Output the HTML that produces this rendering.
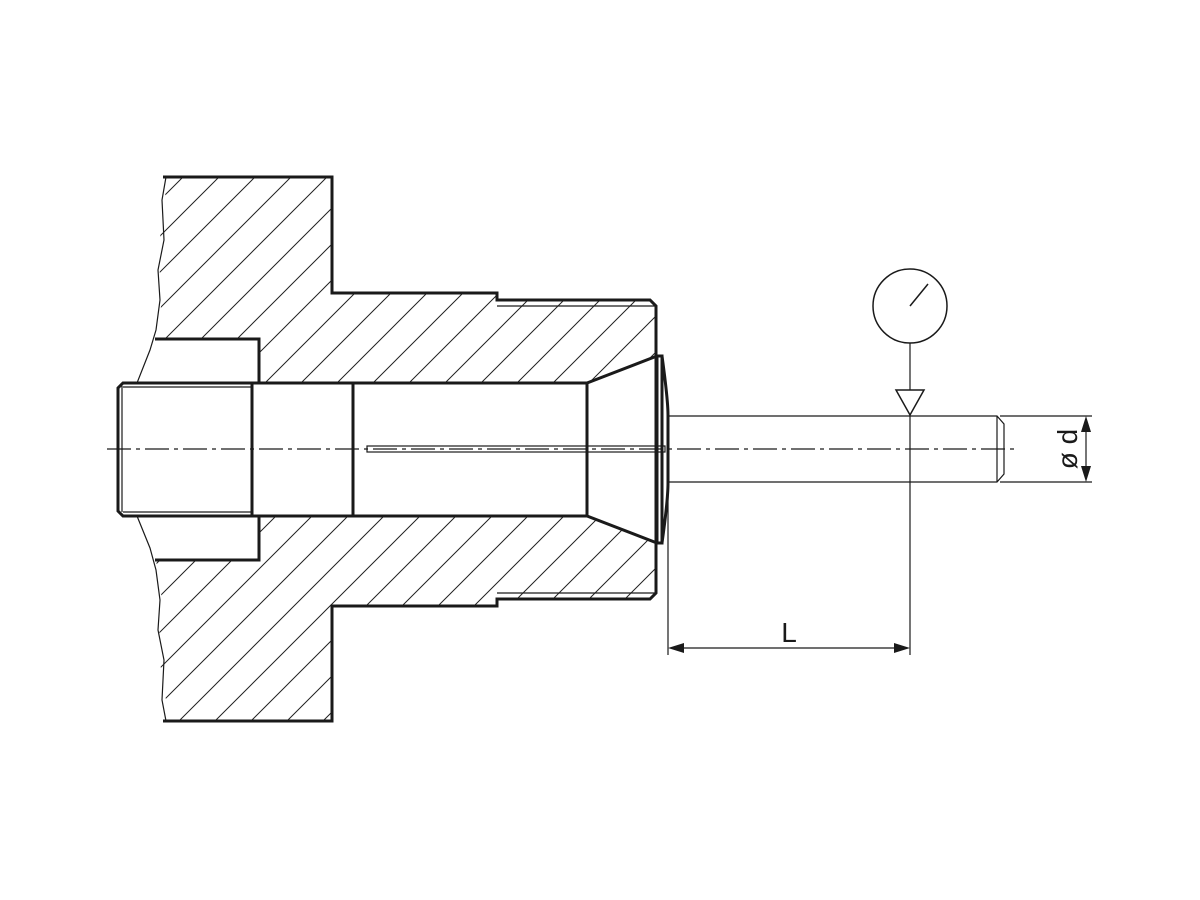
<!DOCTYPE html>
<html><head><style>html,body{margin:0;padding:0;background:#fff}svg{display:block}</style></head>
<body>
<svg width="1200" height="900" viewBox="0 0 1200 900" xmlns="http://www.w3.org/2000/svg">
<defs>
<pattern id="h" patternUnits="userSpaceOnUse" width="36" height="36">
<path d="M-9,9 L9,-9 M0,36 L36,0 M27,45 L45,27" stroke="#222" stroke-width="1"/>
</pattern>
</defs>
<g fill="url(#h)" stroke="none">
<path d="M163,177 L332,177 L332,293 L497,293 L497,300 L650,300 L656,306 L656,356 L587,383 L259,383 L259,339 L156,339 L162,300 L158,250 L166,200 Z"/>
<path d="M163,721 L332,721 L332,606 L497,606 L497,599 L650,599 L656,593 L656,543 L587,516 L259,516 L259,560 L156,560 L162,600 L158,650 L166,700 Z"/>
</g>
<g fill="none" stroke="#1a1a1a" stroke-width="3" stroke-linejoin="miter">
<path d="M163,177 L332,177 L332,293 L497,293 L497,300 L650,300 L656,306 L656,593 L650,599 L497,599 L497,606 L332,606 L332,721 L163,721"/>
<path d="M259,383 L259,339 L155,339"/>
<path d="M259,516 L259,560 L155,560"/>
<path d="M123,383 L587,383 L657,356 L662,356 L662,543 L657,543 L587,516 L123,516 L118,511 L118,388 Z"/>
<path d="M252,383 L252,516 M353,383 L353,516 M587,383 L587,516 M657,356 L657,543"/>
<path d="M662,356 Q668,400 668,415 L668,483 Q668,500 662,543"/>
</g>
<g fill="none" stroke="#1a1a1a" stroke-width="1.2">
<path d="M166,177 L162,200 L164,240 L158,270 L160,300 L156,330 L150,350 L137,383"/>
<path d="M137,516 L150,548 L156,570 L160,600 L158,630 L164,660 L162,700 L166,721"/>
<path d="M123,387 L252,387 M123,512 L252,512 M122,386 L122,512"/>
<path d="M497,306 L656,306 M497,593 L656,593"/>
<rect x="367" y="446" width="298" height="6"/>
<path d="M668,416 L997,416 L1004,424 L1004,474 L997,482 L668,482 M997,416 L997,482"/>
<path d="M1000,416 L1092,416 M1000,482 L1092,482"/>
<path d="M668,482 L668,655"/>
<path d="M910,343 L910,390 M910,415 L910,655"/>
<path d="M896,390 L924,390 L910,415 Z" stroke-width="1.5"/>
<circle cx="910" cy="306" r="37" stroke-width="1.5"/>
<path d="M910,306 L928,284" stroke-width="1.5"/>
<path d="M680,648 L898,648"/>
<path d="M1086,428 L1086,470"/>
<path d="M107,449 L1017,449" stroke-dasharray="24,5,4,5"/>
</g>
<g fill="#1a1a1a">
<path d="M668,648 L684,643 L684,653 Z"/>
<path d="M910,648 L894,643 L894,653 Z"/>
<path d="M1086,416 L1081,432 L1091,432 Z"/>
<path d="M1086,482 L1081,466 L1091,466 Z"/>
</g>
<text x="789" y="642" font-family="Liberation Sans, sans-serif" font-size="28" text-anchor="middle" fill="#1a1a1a">L</text>
<text transform="translate(1077,449) rotate(-90)" font-family="Liberation Sans, sans-serif" font-size="28" text-anchor="middle" fill="#1a1a1a">ø d</text>
</svg>
</body></html>
